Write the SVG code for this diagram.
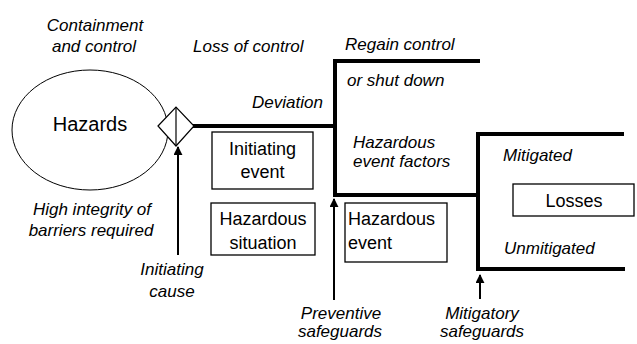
<svg xmlns="http://www.w3.org/2000/svg" width="637" height="344" viewBox="0 0 637 344">
<defs>
<marker id="ah" viewBox="0 0 10 10" refX="9" refY="5" markerWidth="9" markerHeight="9" markerUnits="userSpaceOnUse" orient="auto">
<path d="M0,0 L10,5 L0,10 z" fill="#000"/>
</marker>
</defs>
<style>
.lbl{font-family:"Liberation Sans",Arial,sans-serif;font-style:italic;font-size:17px;fill:#000}
.box{fill:#fff;stroke:#000;stroke-width:1.3}
.bt{font-family:"Liberation Sans",Arial,sans-serif;font-size:18px;fill:#000}
.thick{fill:none;stroke:#000;stroke-width:4;stroke-linecap:square}
.arr{stroke:#000;stroke-width:2;fill:none;marker-end:url(#ah)}
</style>
<rect width="637" height="344" fill="#fff"/>
<g id="connectors">
<polyline class="thick" points="194,126 335,126"/>
<polyline class="thick" points="478,61 335,61 335,195 478,195"/>
<polyline class="thick" points="622,134 478,134 478,269 623,269"/>
<line class="arr" x1="178" y1="255" x2="178" y2="147"/>
<line class="arr" x1="334" y1="300" x2="334" y2="199"/>
<line class="arr" x1="480" y1="299" x2="480" y2="275"/>
</g>
<g id="hazards">
<ellipse cx="90" cy="130" rx="78" ry="60" fill="#fff" stroke="#000" stroke-width="1"/>
<text x="90" y="131" text-anchor="middle" font-family="Liberation Sans, Arial, sans-serif" font-size="20">Hazards</text>
</g>
<g id="barrier">
<polygon points="158,126 176,107 194,126 176,146" fill="#fff" stroke="#000" stroke-width="1.2"/>
<line x1="176" y1="107" x2="176" y2="146" stroke="#000" stroke-width="1.2"/>
</g>
<g id="initiating-event">
<rect class="box" x="212" y="132" width="101" height="57"/>
<text class="bt" x="262.5" y="155" text-anchor="middle">Initiating</text>
<text class="bt" x="262.5" y="178" text-anchor="middle">event</text>
</g>
<g id="hazardous-situation">
<rect class="box" x="211" y="203" width="104" height="52"/>
<text class="bt" x="263" y="225" text-anchor="middle">Hazardous</text>
<text class="bt" x="263" y="249" text-anchor="middle">situation</text>
</g>
<g id="hazardous-event">
<rect class="box" x="345" y="203" width="102" height="59"/>
<text class="bt" x="348" y="225">Hazardous</text>
<text class="bt" x="348" y="249">event</text>
</g>
<g id="losses">
<rect class="box" x="513" y="184" width="121" height="32"/>
<text class="bt" x="574" y="207" text-anchor="middle">Losses</text>
</g>
<g id="labels">
<text class="lbl" x="95" y="31" text-anchor="middle">Containment</text>
<text class="lbl" x="94" y="52" text-anchor="middle">and control</text>
<text class="lbl" x="193" y="52">Loss of control</text>
<text class="lbl" x="345" y="50">Regain control</text>
<text class="lbl" x="347" y="86">or shut down</text>
<text class="lbl" x="252" y="108">Deviation</text>
<text class="lbl" x="353" y="148">Hazardous</text>
<text class="lbl" x="353" y="167">event factors</text>
<text class="lbl" x="503" y="161">Mitigated</text>
<text class="lbl" x="504" y="254">Unmitigated</text>
<text class="lbl" x="92" y="215" text-anchor="middle">High integrity of</text>
<text class="lbl" x="91" y="236" text-anchor="middle">barriers required</text>
<text class="lbl" x="172" y="275" text-anchor="middle">Initiating</text>
<text class="lbl" x="172" y="297" text-anchor="middle">cause</text>
<text class="lbl" x="341" y="319" text-anchor="middle">Preventive</text>
<text class="lbl" x="340" y="337" text-anchor="middle">safeguards</text>
<text class="lbl" x="482" y="319" text-anchor="middle">Mitigatory</text>
<text class="lbl" x="482" y="337" text-anchor="middle">safeguards</text>
</g>
</svg>
